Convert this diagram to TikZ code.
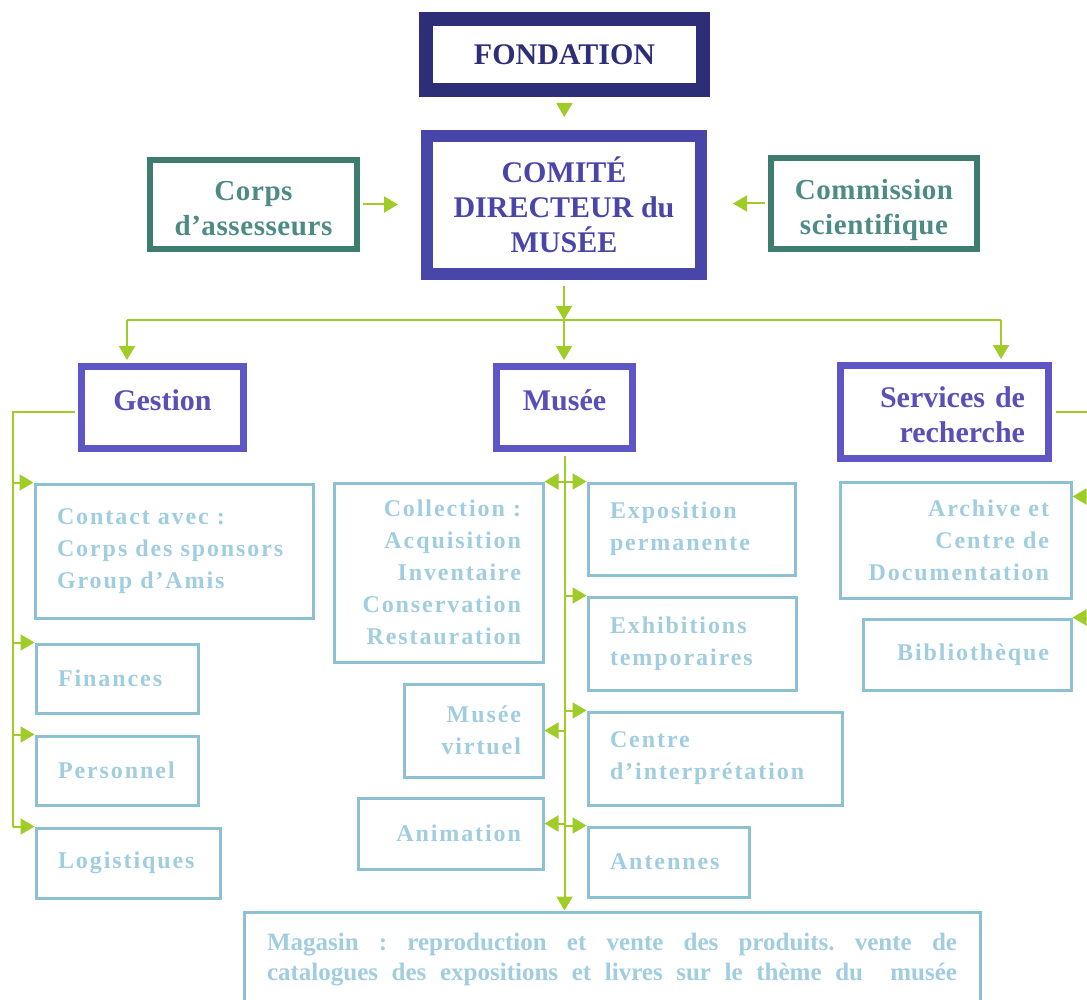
\documentclass[tikz,border=0pt]{standalone}
\usepackage{fontspec}
\setmainfont{Liberation Serif}
\newfontfamily\lsp[LetterSpace=8]{Liberation Serif}
\newfontfamily\tsp[LetterSpace=2]{Liberation Serif}
\usetikzlibrary{arrows.meta,calc}
\frenchspacing
\definecolor{navy}{RGB}{46,46,120}
\definecolor{comitec}{RGB}{72,70,168}
\definecolor{headc}{RGB}{94,86,196}
\definecolor{headt}{RGB}{88,80,184}
\definecolor{tealc}{RGB}{62,124,112}
\definecolor{tealt}{RGB}{78,138,134}
\definecolor{lblue}{RGB}{142,192,212}
\definecolor{ltext}{RGB}{160,205,224}
\definecolor{lgreen}{RGB}{160,204,40}
\newcommand{\fullline}[1]{\makebox[690pt][s]{\spaceskip=0pt\xspaceskip=0pt #1}}
\tikzset{
  box/.style={rectangle, inner ysep=0pt, align=center},
  fondbox/.style={box, draw=navy, text=navy, line width=14pt, font=\fontsize{30}{34}\selectfont\bfseries},
  comitebox/.style={box, draw=comitec, text=comitec, line width=12pt, font=\fontsize{30}{35}\selectfont\bfseries},
  sidebox/.style={box, draw=tealc, text=tealt, line width=6pt, font=\tsp\fontsize{29}{35}\selectfont\bfseries},
  headbox/.style={box, draw=headc, text=headt, line width=7pt, font=\fontsize{30}{35}\selectfont\bfseries},
  lbox/.style={box, draw=lblue, text=ltext, line width=3pt, inner xsep=22pt, font=\lsp\fontsize{24}{32}\selectfont\bfseries},
  wire/.style={draw=lgreen, line width=2pt},
  arr/.style={wire, -{Triangle[length=14pt,width=16pt]}},
}
\begin{document}
\begin{tikzpicture}[x=1pt,y=-1pt]
\useasboundingbox (0,0) rectangle (1087,1000);
\clip (0,0) rectangle (1087,1000);
\fill[white] (0,0) rectangle (1087,1000);

% top
\node[fondbox, minimum width=277pt, minimum height=71pt] (fond) at (564.5,54.5) {FONDATION};
\node[comitebox, minimum width=274pt, minimum height=138pt] (comite) at (564,205) {COMITÉ\\DIRECTEUR du\\MUSÉE};
\node[sidebox, minimum width=207pt, minimum height=89pt] (corps) at (253.5,204.5) {\rule{0pt}{27pt}Corps\\d’assesseurs};
\node[sidebox, minimum width=206pt, minimum height=91pt] (comm) at (874,203.5) {\rule{0pt}{33pt}Commission\\scientifique};

% heads
\node[headbox, minimum width=162pt, minimum height=82pt, text depth=15pt] (gestion) at (162.5,407.5) {Gestion};
\node[headbox, minimum width=136pt, minimum height=82pt, text depth=15pt] (musee) at (564.5,407.5) {Musée};
\node[headbox, minimum width=208pt, minimum height=93pt, align=right, text width=161pt, inner xsep=23.5pt] (services) at (944.5,412) {\rule{0pt}{27pt}Services de\\recherche};

% gestion column
\node[lbox, align=left, text width=234pt, minimum width=278pt, minimum height=134pt] (contact) at (174,551) {Contact avec :\\Corps des sponsors\\Group d’Amis};
\node[lbox, align=left, text width=118pt, minimum width=162pt, minimum height=69pt] (finances) at (117,678.5) {Finances};
\node[lbox, align=left, text width=118pt, minimum width=162pt, minimum height=69pt] (personnel) at (117,770.5) {Personnel};
\node[lbox, align=left, text width=140pt, minimum width=184pt, minimum height=70pt] (logist) at (128,863) {Logistiques};

% musee column
\node[lbox, align=right, text width=165pt, minimum width=209pt, minimum height=179pt] (coll) at (438.5,572.5) {Collection :\\Acquisition\\Inventaire\\Conservation\\Restauration};
\node[lbox, align=left, text width=163pt, minimum width=207pt, minimum height=92pt] (expo) at (691.5,529) {Exposition\\permanente};
\node[lbox, align=left, text width=164pt, minimum width=208pt, minimum height=93pt] (exhib) at (692,643.5) {Exhibitions\\temporaires};
\node[lbox, align=right, text width=95pt, minimum width=139pt, minimum height=93pt] (virt) at (473.5,730.5) {Musée\\virtuel};
\node[lbox, align=left, text width=210pt, minimum width=254pt, minimum height=93pt] (centre) at (715,758.5) {Centre\\d’interprétation};
\node[lbox, align=right, text width=141pt, minimum width=185pt, minimum height=71pt] (anim) at (450.5,833.5) {Animation};
\node[lbox, align=left, text width=117pt, minimum width=161pt, minimum height=70pt] (antennes) at (668.5,862) {Antennes};
\node[box, draw=lblue, text=ltext, line width=3pt, inner xsep=23pt, text width=690pt, align=left, minimum height=96pt, font=\fontsize{25}{30}\selectfont\bfseries] (magasin) at (612,960) {\fullline{Magasin : reproduction et vente des produits. vente de}\\\fullline{catalogues des expositions et livres sur le thème du~ musée}};

% services column
\node[lbox, align=right, text width=187pt, minimum width=231pt, minimum height=116pt] (archive) at (955.5,540) {Archive et\\Centre de\\Documentation};
\node[lbox, align=right, text width=164pt, minimum width=208pt, minimum height=71pt] (biblio) at (967,654.5) {Bibliothèque};

% connectors top
\draw[arr, shorten <=7pt, shorten >=13pt] (fond.south) -- (comite.north);
\draw[arr, shorten <=3pt, shorten >=23pt] (corps.east) -- (comite.west |- corps.east);
\draw[arr, shorten <=3pt, shorten >=26pt] (comm.west) -- (comite.east |- comm.west);
\coordinate (junc) at (564,320);
\coordinate (jl) at (127,320);
\coordinate (jr) at (1001,320);
\draw[arr, shorten <=6pt] (comite.south) -- (junc);
\draw[wire] (jl) -- (jr);
\draw[arr, shorten >=3pt] (jl) -- (jl |- gestion.north);
\draw[arr, shorten >=3pt] (junc) -- (junc |- musee.north);
\draw[arr, shorten >=3pt] (jr) -- (jr |- services.north);

% gestion connectors
\coordinate (gl) at (13,412);
\draw[wire, shorten <=3.5pt] (gestion.west |- gl) -- (gl) -- (gl |- logist.north west);
\foreach \b in {contact,finances,personnel,logist}
  \draw[arr] (gl |- \b.north west) -- (\b.north west);

% musee connectors
\draw[arr, shorten <=3.5pt] (musee.south) -- (musee.south |- magasin.north);
\foreach \b in {expo,exhib,centre,antennes}
  \draw[arr] (musee.south |- \b.north west) -- (\b.north west);
\draw[arr] (musee.south |- coll.north east) -- (coll.north east);
\draw[arr] (musee.south |- virt.east) -- (virt.east);
\coordinate (animin) at ($(anim.east)+(0,-10)$);
\draw[arr] (musee.south |- animin) -- (animin);

% services connectors
\coordinate (sr) at (1095,412);
\draw[wire, shorten <=3.5pt] (services.east |- sr) -- (sr) -- (sr |- biblio.north east);
\coordinate (archin) at ($(archive.north east)+(0,16)$);
\draw[arr] (sr |- archin) -- (archin);
\draw[arr] (sr |- biblio.north east) -- (biblio.north east);
\end{tikzpicture}
\end{document}
